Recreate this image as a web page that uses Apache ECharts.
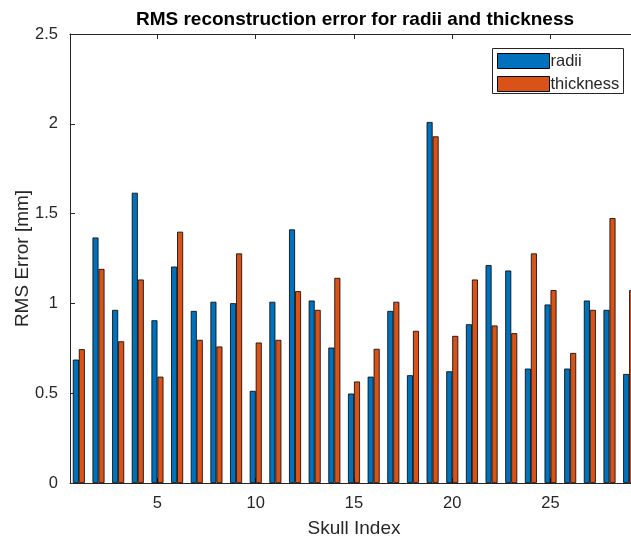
<!DOCTYPE html>
<html>
<head>
<meta charset="utf-8">
<script src="https://cdn.jsdelivr.net/npm/echarts@6/dist/echarts.min.js"></script>
<style>
  html, body { margin: 0; padding: 0; background: #fff; }
  #chart { width: 631px; height: 539px; }
</style>
</head>
<body>
<div id="chart"></div>
<script>
// RMS reconstruction error per skull, for the radii and thickness fits
const skullIndex = [1,2,3,4,5,6,7,8,9,10,11,12,13,14,15,16,17,18,19,20,21,22,23,24,25,26,27,28,29];
const radiiError = [0.687,1.367,0.964,1.616,0.906,1.205,0.958,1.009,1.001,0.513,
                    1.009,1.412,1.016,0.754,0.498,0.592,0.958,0.600,2.010,0.622,
                    0.884,1.213,1.183,0.637,0.994,0.637,1.016,0.964,0.607];
const thicknessError = [0.745,1.192,0.789,1.133,0.592,1.399,0.797,0.760,1.278,0.782,
                        0.797,1.068,0.964,1.142,0.565,0.747,1.009,0.847,1.930,0.819,
                        1.133,0.877,0.834,1.278,1.074,0.724,0.964,1.475,1.074];
const seriesNames = ['radii', 'thickness'];
const xTickValues = [5, 10, 15, 20, 25];
const yTickValues = [0, 0.5, 1, 1.5, 2, 2.5];

const FONT = 'Liberation Sans, Arial, Helvetica, sans-serif';
const INK = '#262626';
const COLORS = ['#0072BD', '#D95319'];

// the axes box runs a little past the right edge of the page
const plotLeft = 70, plotTop = 34, plotWidth = 568, plotHeight = 449;
const xMin = 0.55, xMax = 29.45;

const chart = echarts.init(document.getElementById('chart'), null, { renderer: 'canvas' });

function pairs(values) {
  return skullIndex.map((x, i) => [x, values[i]]);
}

function barSeries(name, values, color) {
  return {
    name: name,
    type: 'bar',
    data: pairs(values),
    barWidth: 6,
    barGap: '0%',
    itemStyle: { color: color, borderColor: '#000', borderWidth: 0.8 },
    emphasis: { disabled: true },
    animation: false
  };
}

const legendX = 492, legendY = 48;

chart.setOption({
  backgroundColor: '#fff',
  animation: false,
  title: {
    text: 'RMS reconstruction error for radii and thickness',
    left: 350,
    textAlign: 'center',
    top: 5,
    textStyle: { fontFamily: FONT, fontSize: 19, fontWeight: 'bold', color: '#000' }
  },
  grid: {
    left: plotLeft, top: plotTop, width: plotWidth, height: plotHeight,
    containLabel: false,
    outerBoundsMode: 'none'
  },
  xAxis: [{
    type: 'value',
    min: xMin, max: xMax,
    name: 'Skull Index',
    nameLocation: 'middle',
    nameGap: 36,
    nameTextStyle: { fontFamily: FONT, fontSize: 19, color: INK },
    axisLine: { lineStyle: { color: INK, width: 1 } },
    axisTick: { inside: true, length: 5, customValues: xTickValues, lineStyle: { color: INK } },
    axisLabel: { customValues: xTickValues, fontFamily: FONT, fontSize: 16.5, color: INK, margin: 12 },
    splitLine: { show: false }
  }, {
    type: 'value',
    position: 'top',
    min: xMin, max: xMax,
    axisLine: { lineStyle: { color: INK, width: 1 } },
    axisTick: { inside: true, length: 5, customValues: xTickValues, lineStyle: { color: INK } },
    axisLabel: { show: false },
    splitLine: { show: false }
  }],
  yAxis: [{
    type: 'value',
    min: 0, max: 2.5, interval: 0.5,
    name: 'RMS Error [mm]',
    nameLocation: 'middle',
    nameGap: 38,
    nameMoveOverlap: false,
    nameTextStyle: { fontFamily: FONT, fontSize: 19, color: INK },
    axisLine: { show: true, lineStyle: { color: INK, width: 1 } },
    axisTick: { show: true, inside: true, length: 5, lineStyle: { color: INK } },
    axisLabel: {
      fontFamily: FONT, fontSize: 16.5, color: INK, margin: 12,
      formatter: v => (yTickValues.includes(v) ? String(v) : '')
    },
    splitLine: { show: false }
  }],
  series: [
    barSeries(seriesNames[0], radiiError, COLORS[0]),
    barSeries(seriesNames[1], thicknessError, COLORS[1])
  ],
  graphic: [{
    type: 'group',
    left: legendX, top: legendY,
    children: [
      { type: 'rect', shape: { x: 0, y: 0, width: 131, height: 45 },
        style: { fill: '#fff', stroke: INK, lineWidth: 1 } },
      { type: 'rect', shape: { x: 5, y: 5, width: 52, height: 15 },
        style: { fill: COLORS[0], stroke: '#000', lineWidth: 1 } },
      { type: 'rect', shape: { x: 5, y: 28, width: 52, height: 15 },
        style: { fill: COLORS[1], stroke: '#000', lineWidth: 1 } },
      { type: 'text', x: 58, y: 12.5,
        style: { text: seriesNames[0], fill: INK, font: '16.5px ' + FONT, verticalAlign: 'middle' } },
      { type: 'text', x: 58, y: 35.5,
        style: { text: seriesNames[1], fill: INK, font: '16.5px ' + FONT, verticalAlign: 'middle' } }
    ]
  }]
});
</script>
</body>
</html>
